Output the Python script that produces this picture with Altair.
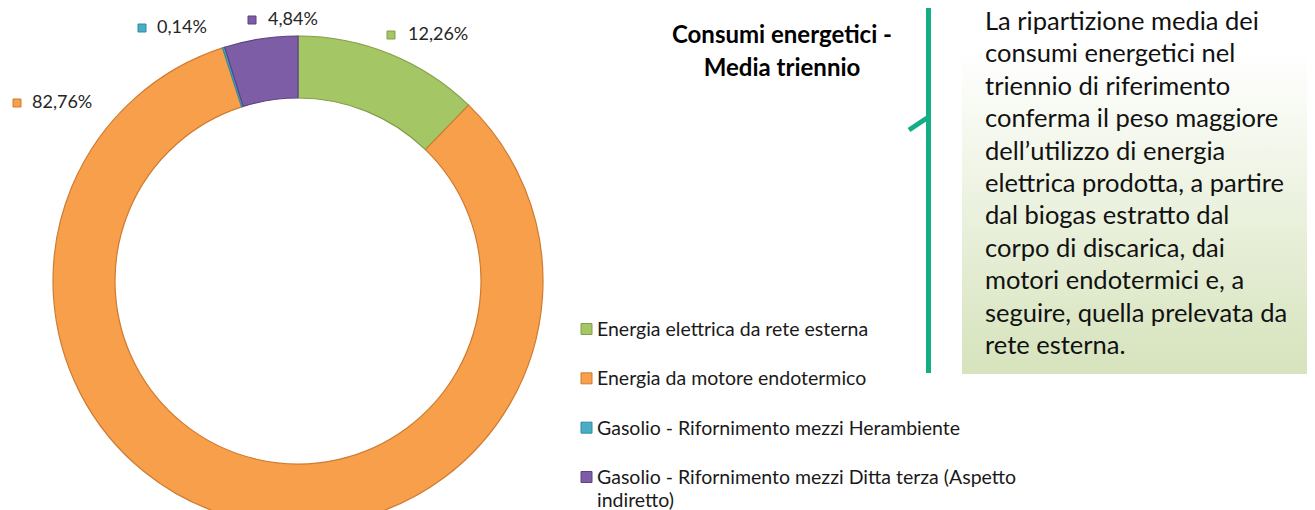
import altair as alt
import pandas as pd

# ---------------- data ----------------
categories = [
    "Energia elettrica da rete esterna",
    "Energia da motore endotermico",
    "Gasolio - Rifornimento mezzi Herambiente",
    "Gasolio - Rifornimento mezzi Ditta terza (Aspetto indiretto)",
]
legend_labels = [
    "Energia elettrica da rete esterna",
    "Energia da motore endotermico",
    "Gasolio - Rifornimento mezzi Herambiente",
    "Gasolio - Rifornimento mezzi Ditta terza (Aspetto\nindiretto)",
]
shares = [12.26, 82.76, 0.14, 4.84]

title_lines = ["Consumi energetici -", "Media triennio"]
note_lines = [
    "La ripartizione media dei",
    "consumi energetici nel",
    "triennio di riferimento",
    "conferma il peso maggiore",
    "dell\u2019utilizzo di energia",
    "elettrica prodotta, a partire",
    "dal biogas estratto dal",
    "corpo di discarica, dai",
    "motori endotermici e, a",
    "seguire, quella prelevata da",
    "rete esterna.",
]

# ---------------- styles ----------------
fills = ["#A5C665", "#F89F4B", "#4BACC6", "#7E5DA7"]
strokes = ["#819F4A", "#CF7B31", "#2F8CA5", "#5C4283"]
FONT = "Lato"

df = pd.DataFrame({
    "category": categories,
    "legend_label": legend_labels,
    "share": shares,
    "idx": list(range(len(categories))),
})
df["pct"] = [f"{v:.2f}".replace(".", ",") + "%" for v in shares]

fill_scale = alt.Scale(domain=categories, range=fills)
stroke_scale = alt.Scale(domain=categories, range=strokes)

base = alt.Chart(df)

# doughnut ring
ring = base.mark_arc(innerRadius=183, outerRadius=245, strokeWidth=1.2).encode(
    theta=alt.Theta("share:Q", stack=True),
    fill=alt.Fill("category:N", scale=fill_scale, legend=None),
    stroke=alt.Stroke("category:N", scale=stroke_scale, legend=None),
    order=alt.Order("idx:Q"),
    x=alt.value(290),
    y=alt.value(273),
)

# data labels (manually placed in the original, like Excel)
label_layout = {
    categories[0]: (383, 400, 27),
    categories[1]: (9, 24, 95),
    categories[2]: (134, 149, 20),
    categories[3]: (244, 260, 12),
}
label_layers = []
for cat, (sx, tx, ty) in label_layout.items():
    sel = base.transform_filter(alt.datum.category == cat)
    label_layers.append(
        sel.mark_square(size=64, strokeWidth=1, opacity=1).encode(
            x=alt.value(sx), y=alt.value(ty),
            fill=alt.Fill("category:N", scale=fill_scale, legend=None),
            stroke=alt.Stroke("category:N", scale=stroke_scale, legend=None),
        )
    )
    label_layers.append(
        sel.mark_text(align="left", baseline="middle", font=FONT, fontSize=18,
                      color="#262626").encode(
            x=alt.value(tx), y=alt.value(ty), text="pct:N"
        )
    )

# legend built from the same scales
leg_y = alt.Y("category:N", scale=alt.Scale(domain=categories, range=[321, 469], padding=0), axis=None)
leg_sq = base.mark_square(size=121, strokeWidth=1, opacity=1).encode(
    x=alt.value(578.5), y=leg_y,
    fill=alt.Fill("category:N", scale=fill_scale, legend=None),
    stroke=alt.Stroke("category:N", scale=stroke_scale, legend=None),
)
leg_txt = base.mark_text(align="left", baseline="top", dy=-8, font=FONT, fontSize=19.5,
                         lineBreak="\n", lineHeight=23, color="#1a1a1a").encode(
    x=alt.value(589), y=leg_y, text="legend_label:N"
)

# title
title = alt.Chart(pd.DataFrame({"t": ["\n".join(title_lines)]})).mark_text(
    align="center", baseline="top", font=FONT, fontSize=24, fontWeight="bold",
    lineBreak="\n", lineHeight=32.5, color="#000000"
).encode(x=alt.value(774), y=alt.value(16), text="t:N")

# note box with gradient
box = alt.Chart(pd.DataFrame({"a": [0]})).mark_rect(
    color=alt.Gradient(
        gradient="linear", x1=0, x2=0, y1=0, y2=1,
        stops=[alt.GradientStop(offset=0, color="#FFFFFF"),
               alt.GradientStop(offset=0.12, color="#FFFFFF"),
               alt.GradientStop(offset=1, color="#D6E3BC")],
    )
).encode(x=alt.value(954), x2=alt.value(1302), y=alt.value(0), y2=alt.value(366))

note = alt.Chart(pd.DataFrame({"t": ["\n".join(note_lines)]})).mark_text(
    align="left", baseline="top", font=FONT, fontSize=25.5, lineBreak="\n",
    lineHeight=32.4, color="#111111"
).encode(x=alt.value(977), y=alt.value(2), text="t:N")

# callout bracket
vline = alt.Chart(pd.DataFrame({"a": [0]})).mark_rule(color="#13AE86", strokeWidth=5).encode(
    x=alt.value(920.5), y=alt.value(0), y2=alt.value(365)
)
diag = alt.Chart(pd.DataFrame({"a": [0]})).mark_rule(color="#13AE86", strokeWidth=5).encode(
    x=alt.value(901), y=alt.value(122), x2=alt.value(919), y2=alt.value(110)
)

chart = alt.layer(
    box, note, vline, diag, ring, *label_layers, leg_sq, leg_txt, title
).properties(
    width=1299, height=502, padding=0, background="white",
    autosize=alt.AutoSizeParams(type="none"),
).configure_view(strokeWidth=0, stroke="transparent")

chart.save("out.html", embed_options={"renderer": "svg", "actions": False})
